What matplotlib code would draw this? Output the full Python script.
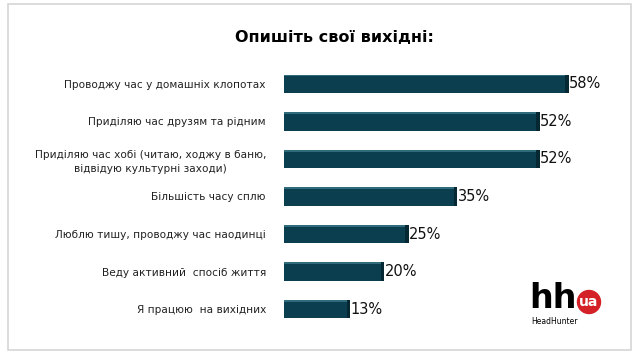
import matplotlib.pyplot as plt
from matplotlib.patches import Rectangle, Ellipse

# Data
labels = ['Проводжу час у домашніх клопотах',
          'Приділяю час друзям та рідним',
          'Приділяю час хобі (читаю, ходжу в баню,\nвідвідую культурні заходи)',
          'Більшість часу сплю',
          'Люблю тишу, проводжу час наодинці',
          'Веду активний  спосіб життя',
          'Я працюю  на вихідних']
values = [58, 52, 52, 35, 25, 20, 13]

bar_color = '#0b3f50'
side_color = '#052833'
top_color = '#2f6b7a'

fig = plt.figure(figsize=(6.38, 3.57), dpi=100)
fig.patch.set_facecolor('white')

# light grey frame around the panel
fig.patches.append(Rectangle((8 / 638, 1 - 350 / 357), 623 / 638, 346 / 357,
                             transform=fig.transFigure, fill=False,
                             edgecolor='#d6d6d6', linewidth=1.2))

ax = fig.add_axes([284 / 638, 1 - 328 / 357, 339.5 / 638, 263 / 357])
pos = list(range(len(values)))
h = 0.49
ax.barh(pos, values, height=h, color=bar_color, edgecolor='none', zorder=2)
# fake 3D: darker right face and lighter top edge
ax.barh(pos, [0.7] * len(values), left=values, height=h, color=side_color,
        edgecolor='none', zorder=2)
ax.barh([p - h / 2 + 0.025 for p in pos], values, height=0.05, color=top_color,
        edgecolor='none', zorder=3)

for p, v in zip(pos, values):
    ax.text(v + 0.8, p, f'{v}%', va='center', ha='left', fontsize=10.5,
            family='DejaVu Sans', color='#111111')

ax.set_xlim(0, 70)
ax.set_ylim(len(values) - 0.5, -0.5)
ax.set_yticks(pos)
ax.set_yticklabels(labels, fontsize=7.6, family='DejaVu Sans', color='#222222',
                   linespacing=1.45)
for t in ax.get_yticklabels():
    t.set_horizontalalignment('right')
    t.set_multialignment('center')
ax.tick_params(axis='y', length=0, pad=13)
ax.set_xticks([])
for s in ax.spines.values():
    s.set_visible(False)

fig.text(334 / 638, 1 - 38 / 357, 'Опишіть свої вихідні:', ha='center',
         va='center', fontsize=11.5, fontweight='bold', family='DejaVu Sans')

# hh.ua logo
fig.text(529 / 638, 1 - 299 / 357, 'hh', ha='left', va='center', fontsize=24,
         fontweight='bold', family='DejaVu Sans', color='black')
fig.patches.append(Ellipse((589 / 638, 1 - 302 / 357), 23 / 638, 23 / 357,
                           transform=fig.transFigure, color='#d42027'))
fig.text(589 / 638, 1 - 302.5 / 357, 'ua', ha='center', va='center', fontsize=10,
         fontweight='bold', family='DejaVu Sans', color='white')
fig.text(531 / 638, 1 - 321 / 357, 'HeadHunter', ha='left', va='center',
         fontsize=5.5, family='DejaVu Sans', color='black')

fig.savefig('out.png', dpi=100, facecolor='white')
